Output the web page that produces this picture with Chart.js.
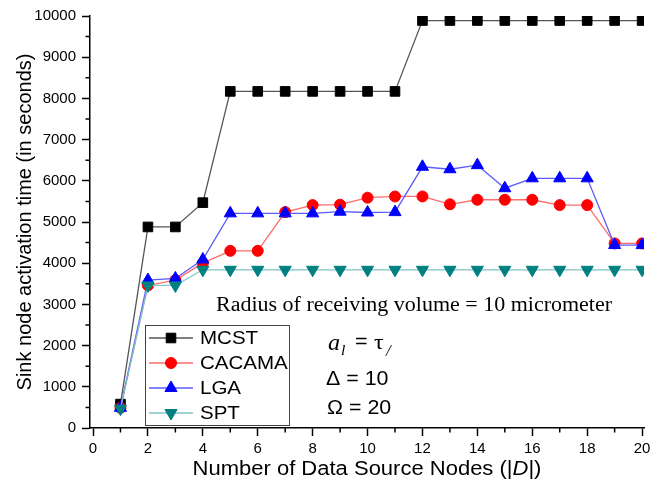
<!DOCTYPE html>
<html>
<head>
<meta charset="utf-8">
<script src="https://cdn.jsdelivr.net/npm/chart.js@4.4.1/dist/chart.umd.min.js"></script>
<style>
html,body{margin:0;padding:0;background:#fff;}
#c{display:block;}
</style>
</head>
<body>
<canvas id="c" width="664" height="483"></canvas>
<script>
// ---- data ----
const nodes = [1,2,3,4,5,6,7,8,9,10,11,12,13,14,15,16,17,18,19,20];
const mcst   = [580,4880,4880,5470,8170,8170,8170,8170,8170,8170,8170,9890,9890,9890,9890,9890,9890,9890,9890,9890];
const cacama = [490,3460,3590,4000,4300,4300,5240,5410,5420,5590,5620,5620,5430,5540,5540,5540,5410,5410,4480,4480];
const lga    = [490,3590,3630,4090,5210,5210,5210,5210,5250,5230,5240,6340,6280,6380,5820,6060,6060,6060,4440,4440];
const spt    = [470,3460,3460,3840,3840,3840,3840,3840,3840,3840,3840,3840,3840,3840,3840,3840,3840,3840,3840,3840];
const seriesNames = ['MCST','CACAMA','LGA','SPT'];
const xTickStep = 2;
const yTickStep = 1000;

const SANS = '"Liberation Sans", Arial, sans-serif';
const SERIF = '"Liberation Serif", "Times New Roman", serif';

const toPts = arr => nodes.map((x,i)=>({x:x, y:arr[i]}));

const datasets = [
  {label:seriesNames[0], data:toPts(mcst), borderColor:'#555555', backgroundColor:'#000000', pointBackgroundColor:'#000000', pointBorderColor:'#000000', pointStyle:'rect', pointRadius:6.8, order:4},
  {label:seriesNames[1], data:toPts(cacama), borderColor:'#ff6b6b', backgroundColor:'#ff0000', pointBackgroundColor:'#ff0000', pointBorderColor:'#ff0000', pointStyle:'circle', pointRadius:5.5, order:3},
  {label:seriesNames[2], data:toPts(lga), borderColor:'#5b5bff', backgroundColor:'#0000ff', pointBackgroundColor:'#0000ff', pointBorderColor:'#0000ff', pointStyle:'triangle', pointRadius:7, order:2},
  {label:seriesNames[3], data:toPts(spt), borderColor:'#7fc4c4', backgroundColor:'#008080', pointBackgroundColor:'#008080', pointBorderColor:'#008080', pointStyle:'triangle', pointRotation:180, pointRadius:7, order:1}
];
datasets.forEach(d=>{d.borderWidth=1.3; d.pointBorderWidth=1; d.showLine=true; d.tension=0; d.fill=false;});

const minorTicks = {
  id:'minorTicks',
  afterDraw(chart){
    const ctx = chart.ctx, xs = chart.scales.x, ys = chart.scales.y;
    ctx.save();
    ctx.strokeStyle = '#000'; ctx.lineWidth = 1.5;
    ctx.beginPath();
    for(let v=1; v<20; v+=2){
      const px = xs.getPixelForValue(v);
      ctx.moveTo(px, ys.bottom); ctx.lineTo(px, ys.bottom+4.5);
    }
    for(let v=500; v<10000; v+=1000){
      const py = ys.getPixelForValue(v);
      ctx.moveTo(xs.left, py); ctx.lineTo(xs.left-4.5, py);
    }
    ctx.stroke();
    ctx.restore();
  }
};

function stretchText(ctx, txt, x, y, sx){
  ctx.save(); ctx.translate(x,y); ctx.scale(sx,1); ctx.fillText(txt,0,0); ctx.restore();
  return ctx.measureText(txt).width*sx;
}

const decor = {
  id:'decor',
  afterDraw(chart){
    const ctx = chart.ctx;
    ctx.save();
    // legend box
    const bx=145, by=325, bw=144, bh=100;
    ctx.fillStyle='#fff';
    ctx.fillRect(bx,by,bw,bh);
    ctx.strokeStyle='#444'; ctx.lineWidth=1;
    ctx.strokeRect(bx+0.5,by+0.5,bw,bh);
    const rows=[338,363,388,413];
    chart.data.datasets.forEach((d,i)=>{
      const y=rows[i];
      ctx.strokeStyle=d.borderColor; ctx.lineWidth=1.3;
      ctx.beginPath(); ctx.moveTo(149,y); ctx.lineTo(193,y); ctx.stroke();
      ctx.fillStyle=d.pointBackgroundColor; ctx.strokeStyle=d.pointBorderColor; ctx.lineWidth=1;
      Chart.helpers.drawPoint(ctx,{pointStyle:d.pointStyle, rotation:d.pointRotation||0, radius:d.pointRadius, borderWidth:1}, 171, y);
      ctx.fillStyle='#000'; ctx.font='19px '+SANS; ctx.textBaseline='middle'; ctx.textAlign='left';
      stretchText(ctx, d.label, 200, y+1, 1.08);
    });
    // annotation text
    ctx.fillStyle='#000'; ctx.textBaseline='alphabetic'; ctx.textAlign='left';
    ctx.font='20px '+SERIF;
    stretchText(ctx, 'Radius of receiving volume = 10 micrometer', 216, 311, 1.1);
    // a_l = tau_l
    ctx.font='italic 23px '+SERIF; stretchText(ctx,'a', 328, 350, 1.05);
    ctx.font='italic 15px '+SERIF; stretchText(ctx,'l', 341, 355, 1.05);
    ctx.font='20px '+SANS; stretchText(ctx,'=', 355, 348, 1.08);
    ctx.font='22px '+SERIF; stretchText(ctx,'\u03C4', 374, 349, 1.08);
    ctx.font='italic 16px '+SERIF; stretchText(ctx,'/', 386, 356, 1.05);
    ctx.font='20px '+SANS;
    stretchText(ctx,'\u0394 = 10', 326, 385, 1.07);
    stretchText(ctx,'\u03A9 = 20', 327, 414, 1.07);
    // x axis title with italic D
    const sx=1.1;
    const parts=[['Number of Data Source Nodes (|','20px '+SANS],['D','italic 20px '+SANS],['|)','20px '+SANS]];
    let tw=0; parts.forEach(p=>{ctx.font=p[1]; tw+=ctx.measureText(p[0]).width*sx;});
    let tx=(chart.chartArea.left+chart.chartArea.right)/2 - tw/2;
    parts.forEach(p=>{ctx.font=p[1]; tx+=stretchText(ctx,p[0], tx, 475, sx);});
    ctx.restore();
  }
};

new Chart(document.getElementById('c'), {
  type:'scatter',
  data:{datasets:datasets},
  options:{
    responsive:false, animation:false,
    layout:{padding:{top:16,right:20,left:0,bottom:0}},
    plugins:{legend:{display:false}, tooltip:{enabled:false}},
    scales:{
      x:{type:'linear', min:-0.11, max:20.07,
        ticks:{stepSize:xTickStep, includeBounds:false, color:'#000', font:{family:SANS, size:15}, padding:4, maxRotation:0, callback:v=>String(v)},
        grid:{display:true, drawOnChartArea:false, drawTicks:true, tickLength:8, tickColor:'#000', tickWidth:1.5, color:'#000'},
        border:{display:true, color:'#000', width:1.5},
        afterFit:s=>{s.height=55;}
      },
      y:{type:'linear', min:0, max:10000,
        ticks:{stepSize:yTickStep, color:'#000', font:{family:SANS, size:15}, padding:6, callback:v=>String(v)},
        grid:{display:true, drawOnChartArea:false, drawTicks:true, tickLength:8, tickColor:'#000', tickWidth:1.5, color:'#000'},
        border:{display:true, color:'#000', width:1.5},
        title:{display:true, text:'Sink node activation time (in seconds)', color:'#000', font:{family:SANS, size:20}, padding:{top:13,bottom:0}},
        afterFit:s=>{s.width=90;}
      }
    }
  },
  plugins:[minorTicks, decor]
});
</script>
</body>
</html>
